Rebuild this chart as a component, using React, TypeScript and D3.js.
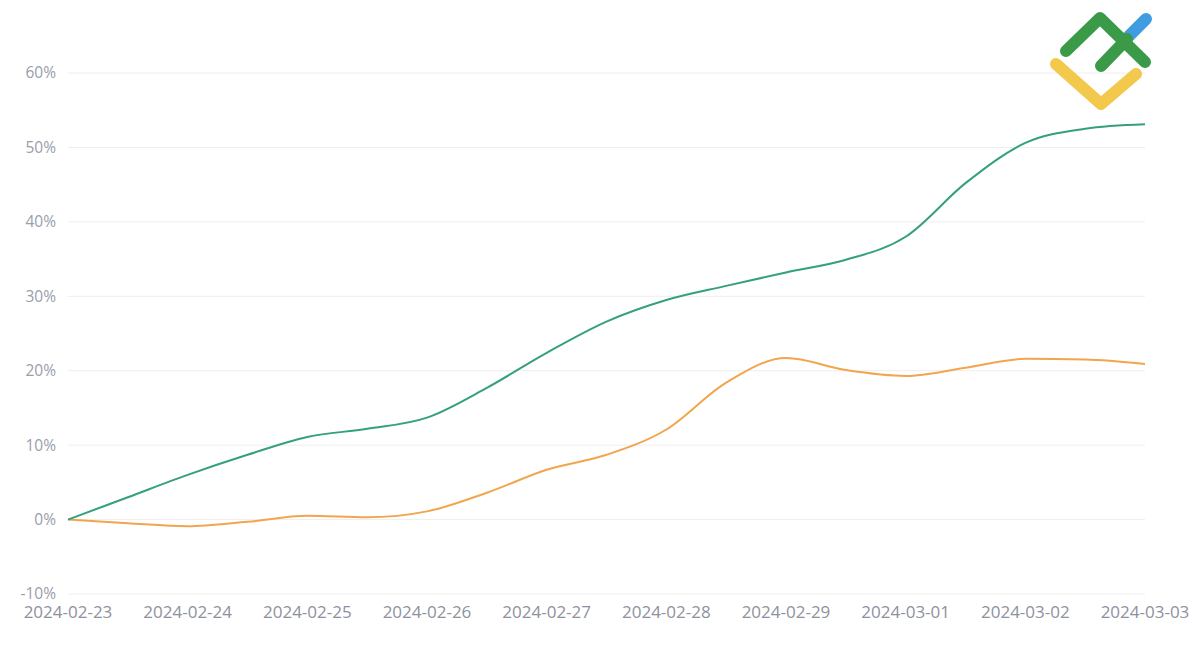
import React from 'react'
import * as d3 from 'd3'

// tick labels along the bottom
const dateLabels = [
    '2024-02-23',
    '2024-02-24',
    '2024-02-25',
    '2024-02-26',
    '2024-02-27',
    '2024-02-28',
    '2024-02-29',
    '2024-03-01',
    '2024-03-02',
    '2024-03-03'
]
const yTicks = [-10, 0, 10, 20, 30, 40, 50, 60]

// sample positions, in days after 2024-02-23
const sampleDays = [0, 0.5, 1, 1.5, 2, 2.5, 3, 3.5, 4, 4.5, 5, 5.5, 6, 6.5, 7, 7.5, 8, 8.5, 9]
const greenSeries = [0, 3.0, 6.0, 8.7, 11.1, 12.2, 13.7, 17.7, 22.4, 26.6, 29.5, 31.4, 33.2, 34.9, 38.0, 45.2, 50.6, 52.5, 53.1]
const orangeSeries = [0, -0.5, -0.9, -0.3, 0.5, 0.3, 1.1, 3.6, 6.7, 8.7, 12.1, 18.4, 21.7, 20.1, 19.3, 20.4, 21.6, 21.5, 20.9]

const W = 1200
const H = 654
const margin = { left: 68, right: 55, top: 73, bottom: 60 }

const App: React.FC = () => {
    const x = d3
        .scaleLinear()
        .domain([0, dateLabels.length - 1])
        .range([margin.left, W - margin.right])
    const y = d3
        .scaleLinear()
        .domain([-10, 60])
        .range([H - margin.bottom, margin.top])

    const line = d3
        .line<number>()
        .curve(d3.curveMonotoneX)
        .x((_, i) => x(sampleDays[i]))
        .y((d) => y(d))

    const font = "'Open Sans', 'Noto Sans', sans-serif"

    return (
        <svg width={W} height={H} style={{ position: 'absolute', left: 0, top: 0 }}>
            <rect width={W} height={H} fill='#fff' />
            <g className='grid'>
                {yTicks.map((t) => (
                    <g key={t}>
                        <line
                            x1={x(0)}
                            x2={x(dateLabels.length - 1)}
                            y1={y(t)}
                            y2={y(t)}
                            stroke='#eeeeee'
                            strokeWidth={1}
                        />
                        <text
                            x={56}
                            y={y(t)}
                            dy='0.35em'
                            textAnchor='end'
                            fill='#9a9dab'
                            fontSize={15.5}
                            fontFamily={font}
                        >
                            {`${t}%`}
                        </text>
                    </g>
                ))}
            </g>
            <g className='xaxis'>
                {dateLabels.map((d, i) => (
                    <text
                        key={d}
                        x={x(i)}
                        y={618}
                        textAnchor='middle'
                        fill='#8e919e'
                        fontSize={17}
                        fontFamily={font}
                    >
                        {d}
                    </text>
                ))}
            </g>
            <path d={line(orangeSeries) ?? ''} fill='none' stroke='#f2a54d' strokeWidth={2} />
            <path d={line(greenSeries) ?? ''} fill='none' stroke='#35a07c' strokeWidth={2} />
            <g className='logo' strokeLinecap='round' strokeLinejoin='round' fill='none' strokeWidth={12}>
                <path d='M1056,64 L1101,104 L1136,74' stroke='#f2c94c' />
                <path d='M1127,38 L1146,19' stroke='#3f9ce0' />
                <path d='M1066,51 L1100,18 L1145,62' stroke='#3a9a48' />
                <path d='M1101,66 L1127,39' stroke='#3a9a48' />
            </g>
        </svg>
    )
}

export default App
